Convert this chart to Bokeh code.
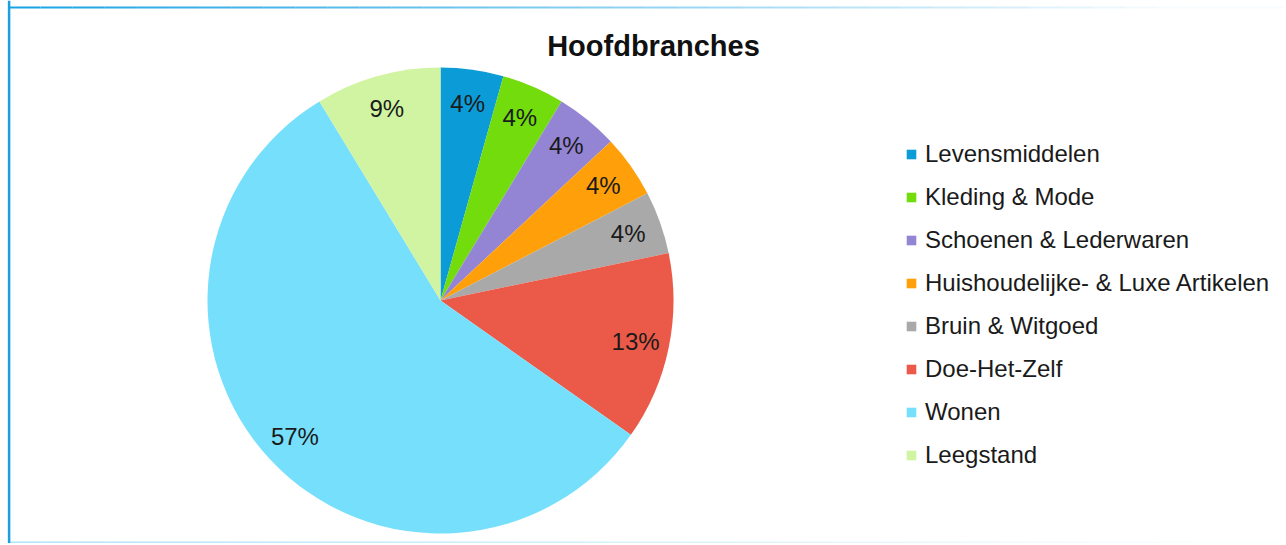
import numpy as np
from bokeh.plotting import figure
from bokeh.models import Legend, LegendItem, Label, Range1d, ColumnDataSource, Span
from bokeh.core.properties import value
from bokeh.embed import file_html
from bokeh.resources import INLINE

title = "Hoofdbranches"
categories = ["Levensmiddelen", "Kleding & Mode", "Schoenen & Lederwaren",
              "Huishoudelijke- & Luxe Artikelen", "Bruin & Witgoed",
              "Doe-Het-Zelf", "Wonen", "Leegstand"]
counts = [1, 1, 1, 1, 1, 3, 13, 2]
colors = ["#0b9bd7", "#72dc0c", "#9484d4", "#ffa00a", "#a9a9a9",
          "#eb5a48", "#76dffc", "#d0f4a2"]

W, H = 1284, 543
cx, cy, R = 440, 243, 233

frac = np.array(counts, dtype=float) / sum(counts)
cum = np.cumsum(frac)
start = np.concatenate([[0.0], cum[:-1]])
start_angle = np.pi / 2 - start * 2 * np.pi
end_angle = np.pi / 2 - cum * 2 * np.pi
mid = (start + cum) / 2 * 2 * np.pi
lab_r = 0.855 * R
lx = cx + lab_r * np.sin(mid)
ly = cy + lab_r * np.cos(mid)
labels = [f"{round(f * 100)}%" for f in frac]

src = ColumnDataSource(dict(cat=categories, start=start_angle, end=end_angle,
                            color=colors, lx=lx, ly=ly, lab=labels))

p = figure(width=W, height=H, x_range=Range1d(0, W), y_range=Range1d(0, H),
           output_backend="svg", toolbar_location=None, min_border=0,
           outline_line_color=None, x_axis_location=None, y_axis_location=None)
p.grid.visible = False

# border decoration
p.add_layout(Span(location=8.6, dimension="height", line_color="#1a9fe0", line_width=2.5))
n = 40
xs = np.linspace(8, W, n + 1)
p.segment(x0=xs[:-1], x1=xs[1:], y0=H - 7, y1=H - 7, line_color="#1aa3e3",
          line_width=2, line_alpha=np.clip(1 - np.linspace(0, 1.05, n), 0.03, 1))
p.segment(x0=xs[:-1], x1=xs[1:], y0=1.2, y1=1.2, line_color="#7fd0f0",
          line_width=1.5, line_alpha=np.clip(0.6 - np.linspace(0, 0.6, n), 0.03, 1))

wr = p.wedge(x=cx, y=cy, radius=R, start_angle="start", end_angle="end",
             direction="clock", fill_color="color", line_color=None, source=src)

p.text(x="lx", y="ly", text="lab", text_font=value("Liberation Sans"),
       text_font_size="24px", text_align="center", text_baseline="middle",
       text_color="#1a1a1a", source=src)

p.add_layout(Label(x=653, y=H - 45, text=title, text_font="Liberation Sans",
                   text_font_size="29px", text_font_style="bold",
                   text_align="center", text_baseline="middle",
                   text_color="#111111"))

items = [LegendItem(label=c, renderers=[wr], index=i) for i, c in enumerate(categories)]
legend = Legend(items=items, location=(905, 74), orientation="vertical",
                label_text_font="Liberation Sans", label_text_font_size="24px",
                label_text_color="#1a1a1a", glyph_width=12, glyph_height=12,
                label_standoff=8, label_height=27, spacing=15, padding=0, margin=0,
                border_line_color=None, background_fill_alpha=0)
p.add_layout(legend)

open("out.html", "w").write(file_html(p, INLINE))
